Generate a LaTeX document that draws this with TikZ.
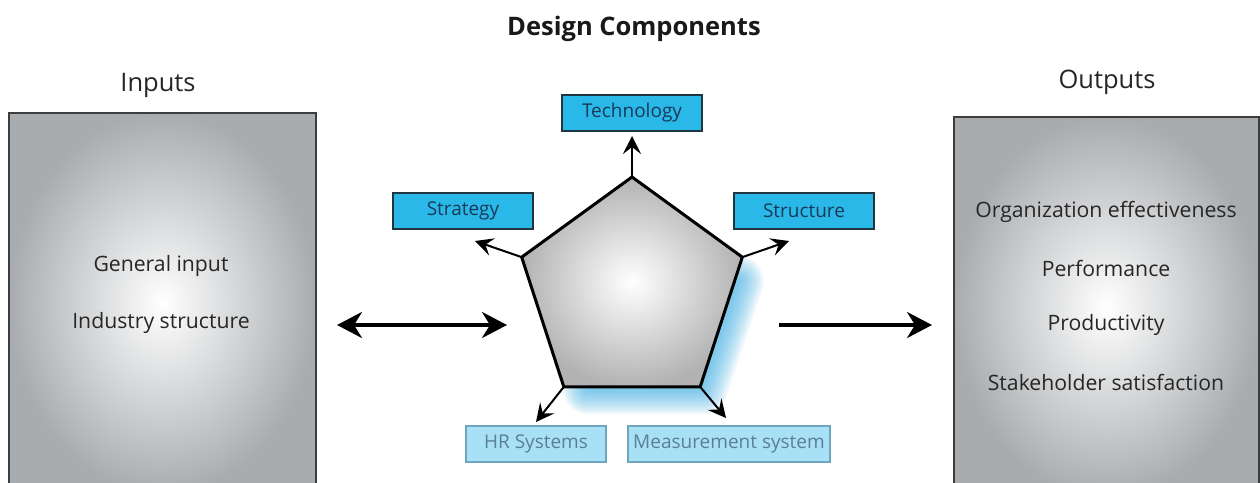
\documentclass[tikz,border=0pt]{standalone}
\usepackage{fontspec}
\setmainfont{Open Sans}
\usetikzlibrary{shapes.geometric,arrows.meta}
\definecolor{boxgray}{HTML}{A9ACAF}
\definecolor{boxedge}{HTML}{3C3D3F}
\definecolor{compfill}{HTML}{2AB8E8}
\definecolor{compedge}{HTML}{1F3640}
\definecolor{comptext}{HTML}{183A58}
\definecolor{softfill}{HTML}{A8E0F6}
\definecolor{softedge}{HTML}{6FA6BE}
\definecolor{softtext}{HTML}{5B7F98}
\definecolor{glow}{HTML}{3CB0E6}
\tikzset{
  panel/.style={draw=boxedge, line width=2pt, inner color=white, outer color=boxgray, anchor=north west, inner sep=0pt},
  comp/.style={draw=compedge, line width=1.6pt, fill=compfill, text=comptext, font=\fontsize{19}{22}\selectfont,
    minimum width=140pt, minimum height=36pt, inner sep=0pt},
  softcomp/.style={draw=softedge, line width=1.2pt, fill=softfill, text=softtext, font=\fontsize{19}{22}\selectfont,
    minimum height=36pt, inner sep=0pt},
  thinarrow/.style={line width=2pt, -{Stealth[length=18pt,width=18pt,inset=7pt]}},
  bigtip/.tip={Stealth[length=25pt,width=26pt,inset=8pt]},
  bigarrow/.style={line width=3.6pt, -bigtip},
  bodytext/.style={font=\fontsize{21.2}{24}\selectfont, text=black!85},
  heading/.style={font=\fontsize{25.5}{28}\selectfont, text=black!85}
}
\begin{document}
\begin{tikzpicture}[x=1pt, y=-1pt]
\useasboundingbox (0,0) rectangle (1260,482);
\fill[white] (0,0) rectangle (1260,482);
\clip (0,0) rectangle (1260,482);

% title and panel headings
\node[font=\bfseries\fontsize{25.5}{28}\selectfont, text=black!90] (title) at (634,29) {Design Components};
\node[heading] (inhead) at (158,85) {Inputs};
\node[heading] (outhead) at (1107,82) {Outputs};

% input and output panels
\node[panel, minimum width=307pt, minimum height=380pt] (inbox) at (8,112) {};
\node[panel, minimum width=305pt, minimum height=380pt] (outbox) at (953,116) {};

\node[bodytext] (gen) at (161,266) {General input};
\node[bodytext] (ind) at (161,323) {Industry structure};

\node[bodytext] (org) at (1106,212) {Organization effectiveness};
\node[bodytext] (perf) at (1106,268) {Performance};
\node[bodytext] (prod) at (1106,325) {Productivity};
\node[bodytext] (stake) at (1106,382) {Stakeholder satisfaction};

% central pentagon; its outline is fixed first so the glow can sit behind it
\path (632,293) node[regular polygon, regular polygon sides=5, minimum size=232pt, inner sep=0pt, outer sep=0pt] (pent) {};
\foreach \w in {3,6,...,51}{
  \draw[glow, line width=\w pt, opacity=0.055, line join=round, line cap=round]
    ([shift={(-4,24)}]pent.corner 5) -- ([shift={(2,2)}]pent.corner 4) -- ([shift={(24,2)}]pent.corner 3);
}
\node[regular polygon, regular polygon sides=5, minimum size=232pt, inner sep=0pt, outer sep=0pt,
  draw=black, line width=3pt, line join=miter, inner color=white, outer color=black!30] at (pent.center) {};

% design components
\node[comp] (tech) at (632,113) {Technology};
\node[comp] (strat) at (463,211) {Strategy};
\node[comp] (struct) at (804,211) {Structure};
\node[softcomp, minimum width=140pt] (hr) at (536,444) {HR Systems};
\node[softcomp, minimum width=202pt] (meas) at (729,444) {Measurement system};

% tips of the component arrows
\coordinate (techtip) at (632,136);
\coordinate (strattip) at (475,241);
\coordinate (structtip) at (789,241);
\coordinate (hrtip) at (536,422);
\coordinate (meastip) at (726,418);

\draw[thinarrow] (pent.corner 1) -- (techtip);
\draw[thinarrow] (pent.corner 2) -- (strattip);
\draw[thinarrow] (pent.corner 5) -- (structtip);
\draw[thinarrow] (pent.corner 3) -- (hrtip);
\draw[thinarrow] (pent.corner 4) -- (meastip);

% flow arrows
\coordinate (inL) at (337,325);
\coordinate (inR) at (507,325);
\coordinate (outL) at (779,325);
\coordinate (outR) at (932,325);
\draw[bigarrow, bigtip-bigtip] (inL) -- (inR);
\draw[bigarrow] (outL) -- (outR);
\end{tikzpicture}
\end{document}
